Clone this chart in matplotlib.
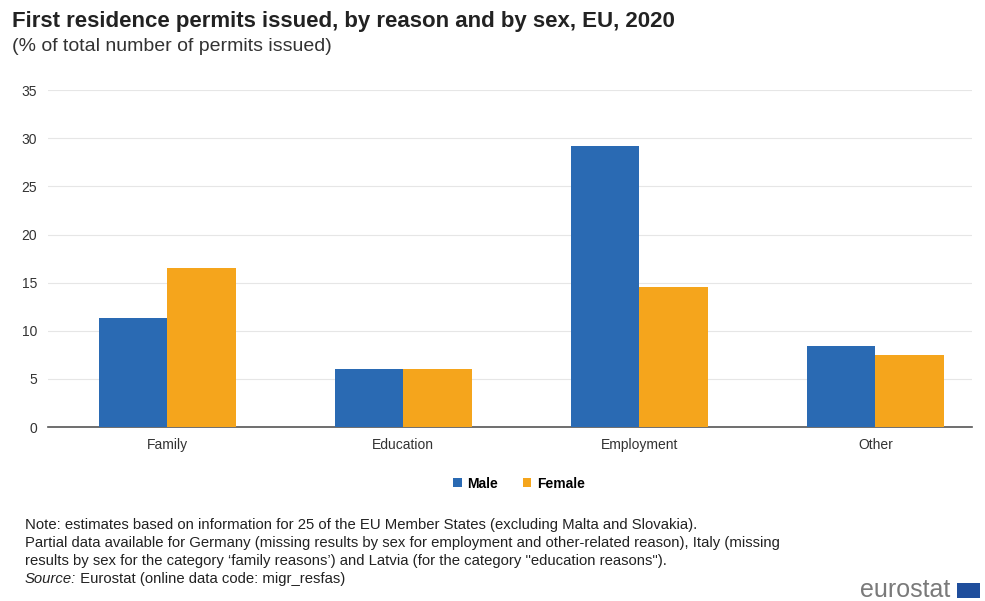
import matplotlib.pyplot as plt
import numpy as np
from matplotlib.patches import Rectangle

plt.rcParams['font.family'] = ['Liberation Sans', 'DejaVu Sans']

categories = ["Family", "Education", "Employment", "Other"]
male = [11.3, 6.0, 29.2, 8.4]
female = [16.5, 6.0, 14.5, 7.5]
yticks = [0, 5, 10, 15, 20, 25, 30, 35]

blue = "#2a6ab3"
orange = "#f5a51c"

fig = plt.figure(figsize=(9.85, 6.01), dpi=100)
ax = fig.add_axes([0.049, 0.2895, 0.938, 0.5605])

x = np.arange(len(categories))
w = 0.29
ax.bar(x - w / 2, male, w, color=blue, label="Male", zorder=3)
ax.bar(x + w / 2, female, w, color=orange, label="Female", zorder=3)

ax.set_xlim(-0.504, 3.41)
ax.set_ylim(0, 35)
ax.set_yticks(yticks)
ax.set_xticks(x)
ax.set_xticklabels(categories)
ax.tick_params(axis="both", length=0, labelsize=10, colors="#333333")
ax.tick_params(axis="y", pad=8)
ax.tick_params(axis="x", pad=8)
ax.grid(axis="y", color="#e6e6e6", linewidth=0.8, zorder=0)
for s in ["top", "right", "left"]:
    ax.spines[s].set_visible(False)
ax.spines["bottom"].set_color("#555555")
ax.spines["bottom"].set_linewidth(1.2)

fig.legend(loc="center", bbox_to_anchor=(0.527, 0.195), ncol=2, frameon=False,
           handlelength=0.6, handleheight=0.6, handletextpad=0.4, columnspacing=1.8,
           prop={"size": 10, "weight": "bold"})

fig.text(0.012, 0.965, "First residence permits issued, by reason and by sex, EU, 2020",
         fontsize=16, fontweight="bold", color="#222222", va="center")
fig.text(0.012, 0.923, "(% of total number of permits issued)", fontsize=14,
         color="#333333", va="center")

# notes and source
notes = ("Note: estimates based on information for 25 of the EU Member States (excluding Malta and Slovakia).\n"
         "Partial data available for Germany (missing results by sex for employment and other-related reason), Italy (missing\n"
         "results by sex for the category \u2018family reasons\u2019) and Latvia (for the category \"education reasons\").")
fig.text(0.025, 0.138, notes, fontsize=10.7, color="#222222", va="top", linespacing=1.35)
src = fig.text(0.025, 0.037, "Source:", fontsize=10.7, style="italic", color="#222222",
               va="center")
ax.annotate(" Eurostat (online data code: migr_resfas)", xy=(1, 0.5), xycoords=src,
            fontsize=10.7, color="#222222", va="center", ha="left")

# logo
fig.text(0.965, 0.006, "eurostat", fontsize=18, color="#7a7a7a", ha="right", va="baseline")
fig.patches.append(Rectangle((0.972, 0.005), 0.023, 0.025, transform=fig.transFigure,
                             facecolor="#1f4e9c", edgecolor="none"))

fig.savefig("out.png", dpi=100)
